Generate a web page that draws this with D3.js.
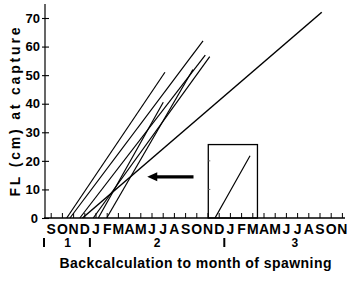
<!DOCTYPE html>
<html>
<head>
<meta charset="utf-8">
<script src="https://cdnjs.cloudflare.com/ajax/libs/d3/7.8.5/d3.min.js"></script>
<style>
  body { margin: 0; background: #fff; }
  svg { display: block; font-family: "Liberation Sans", Arial, Helvetica, sans-serif; font-weight: bold; }
</style>
</head>
<body>
<svg id="chart" width="347" height="287"></svg>
<script>
// month labels, Sept of year 1 -> Nov of year 3
var months = ['S','O','N','D','J','F','M','A','M','J','J','A','S','O','N','D','J','F','M','A','M','J','J','A','S','O','N'];
var yTicks = [0, 10, 20, 30, 40, 50, 60, 70];
var yearLabels = ['1', '2', '3'];
var yearCenters = [1.5, 9.5, 21.8];
var yearBreaks = [-0.6, 3.5, 15.5];

// backcalculated growth lines: spawn month (FL 0) -> month & FL at capture
var spawnMonth   = [1.43, 1.72, 2.6, 3.8, 4.25, 5.0, 2.84];
var captureMonth = [10.2, 13.6, 13.8, 14.2, 10.05, 12.7, 24.2];
var captureFL    = [51, 62, 57, 56.5, 40.5, 52, 72];

// inset fish shown in the box
var insetSpawn = [14.67];
var insetCapture = [17.8];
var insetFL = [21.8];
var insetBox = [14.07, 18.46, 25.7]; // left month, right month, top FL

// arrow from box back to the other fish
var arrowFrom = [12.75, 14.4];
var arrowTo = [8.62, 14.4];

var svg = d3.select('#chart');

var x = d3.scaleLinear().domain([0, 26]).range([50.7, 341.9]);
var y = d3.scaleLinear().domain([0, 70]).range([218, 18]);

// y axis
var yAxis = d3.axisLeft(y)
  .tickValues(yTicks)
  .tickSizeInner(-4)
  .tickSizeOuter(0)
  .tickPadding(5);

var gy = svg.append('g').attr('transform', 'translate(45,0)').call(yAxis);
gy.select('.domain').remove();
gy.selectAll('.tick line').attr('x1', -3).attr('stroke', '#000').attr('stroke-width', 1.1);
gy.selectAll('.tick text')
  .attr('font-size', 13)
  .attr('font-weight', 'bold')
  .attr('font-family', 'inherit')
  .attr('fill', '#000');
gy.selectAll('.tick text').filter(function(d){ return d === 0; }).attr('x', -7);

svg.append('line')
  .attr('x1', 45).attr('x2', 45)
  .attr('y1', y(0)).attr('y2', 4)
  .attr('stroke', '#000').attr('stroke-width', 1.2);

// x axis
var xAxis = d3.axisBottom(x)
  .tickValues(d3.range(months.length))
  .tickFormat(function(d, i){ return months[i]; })
  .tickSizeInner(-5)
  .tickSizeOuter(0)
  .tickPadding(6);

var gx = svg.append('g').attr('transform', 'translate(0,' + y(0) + ')').call(xAxis);
gx.select('.domain').remove();
gx.selectAll('.tick line').attr('stroke', '#000').attr('stroke-width', 1);
gx.selectAll('.tick text')
  .attr('font-size', 14)
  .attr('font-weight', 'bold')
  .attr('font-family', 'inherit')
  .attr('fill', '#000');

svg.append('line')
  .attr('x1', 44).attr('x2', 345)
  .attr('y1', y(0)).attr('y2', y(0))
  .attr('stroke', '#000').attr('stroke-width', 1.4);

// year row
svg.selectAll('.yearbreak')
  .data(yearBreaks)
  .enter().append('line')
  .attr('class', 'yearbreak')
  .attr('x1', function(d){ return x(d); })
  .attr('x2', function(d){ return x(d); })
  .attr('y1', 238).attr('y2', 247)
  .attr('stroke', '#000').attr('stroke-width', 2);

svg.selectAll('.yearlabel')
  .data(yearLabels)
  .enter().append('text')
  .attr('class', 'yearlabel')
  .attr('x', function(d, i){ return x(yearCenters[i]); })
  .attr('y', 246.5)
  .attr('text-anchor', 'middle')
  .attr('font-size', 12)
  .text(function(d){ return d; });

// growth lines
svg.selectAll('.growth')
  .data(spawnMonth)
  .enter().append('line')
  .attr('class', 'growth')
  .attr('x1', function(d){ return x(d); })
  .attr('y1', y(0))
  .attr('x2', function(d, i){ return x(captureMonth[i]); })
  .attr('y2', function(d, i){ return y(captureFL[i]); })
  .attr('stroke', '#000')
  .attr('stroke-width', function(d, i){ return i === spawnMonth.length - 1 ? 1.5 : 1.2; });

// inset box + its line
svg.append('rect')
  .attr('x', x(insetBox[0]))
  .attr('y', y(insetBox[2]))
  .attr('width', x(insetBox[1]) - x(insetBox[0]))
  .attr('height', y(0) - y(insetBox[2]))
  .attr('fill', 'none')
  .attr('stroke', '#000')
  .attr('stroke-width', 1.3);

svg.selectAll('.boxtick')
  .data([10, 20])
  .enter().append('line')
  .attr('class', 'boxtick')
  .attr('x1', x(insetBox[0])).attr('x2', x(insetBox[0]) + 2)
  .attr('y1', function(d){ return y(d); })
  .attr('y2', function(d){ return y(d); })
  .attr('stroke', '#666').attr('stroke-width', 1);

svg.selectAll('.inset')
  .data(insetSpawn)
  .enter().append('line')
  .attr('class', 'inset')
  .attr('x1', function(d){ return x(d); })
  .attr('y1', y(0))
  .attr('x2', function(d, i){ return x(insetCapture[i]); })
  .attr('y2', function(d, i){ return y(insetFL[i]); })
  .attr('stroke', '#000').attr('stroke-width', 1.2);

// arrow
var ax0 = x(arrowFrom[0]), ax1 = x(arrowTo[0]), ay = y(arrowTo[1]);
svg.append('line')
  .attr('x1', ax0).attr('x2', ax1 + 8)
  .attr('y1', ay).attr('y2', ay)
  .attr('stroke', '#000').attr('stroke-width', 3.2);
svg.append('path')
  .attr('d', 'M' + ax1 + ',' + ay + 'L' + (ax1 + 10) + ',' + (ay - 4.5) + 'L' + (ax1 + 10) + ',' + (ay + 4.5) + 'Z')
  .attr('fill', '#000');

// titles
svg.append('text')
  .attr('transform', 'translate(20,112) rotate(-90)')
  .attr('text-anchor', 'middle')
  .attr('font-size', 14)
  .attr('textLength', 169)
  .attr('lengthAdjust', 'spacing')
  .text('FL (cm) at capture');

svg.append('text')
  .attr('x', 195.5)
  .attr('y', 268)
  .attr('text-anchor', 'middle')
  .attr('font-size', 14)
  .attr('textLength', 272)
  .attr('lengthAdjust', 'spacing')
  .text('Backcalculation to month of spawning');
</script>
</body>
</html>
